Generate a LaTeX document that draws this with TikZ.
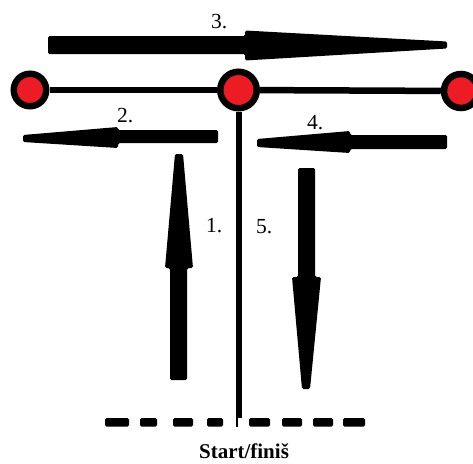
\documentclass[tikz,border=0pt]{standalone}
\usepackage{fontspec}
\setmainfont{Liberation Serif}
\definecolor{dotred}{RGB}{237,28,36}
\begin{document}
\begin{tikzpicture}[x=1pt,y=-1pt,
  dot/.style={circle,draw=black,fill=dotred,line width=6.5pt,inner sep=0pt},
  track/.style={line width=6.5pt,draw=black},
  arrowshape/.style={fill=black,rounded corners=1.5pt},
  lbl/.style={anchor=base west,inner sep=0pt,font=\fontsize{21.5}{25}\selectfont},
  startlbl/.style={anchor=base,inner sep=0pt,font=\fontsize{21}{25}\selectfont\bfseries}]
\useasboundingbox (0,0) rectangle (473,463);
\coordinate (S) at (237,418);
\coordinate (S2) at (237,427);
% track dots
\node[dot,minimum size=32.5pt] (L) at (30,90) {};
\node[dot,minimum size=36.5pt] (C) at (238.5,90) {};
\node[dot,minimum size=34pt] (R) at (461,91) {};
% track lines
\draw[track] (L) -- (C);
\draw[track] (C) -- (R);
\draw[line width=6pt] (C) -- (C |- S);
\draw[line width=2.5pt] (S) -- (S2);
% start dashes
\foreach \a/\b in {105/129,140/157,173/193,207/223,249/270,282/302,313/333,343/365}
  \fill[rounded corners=1.5pt] (\a,418) rectangle (\b,426.5);
% arrows
\fill[arrowshape] (48,36) -- (245,36) -- (245,30.5) -- (447,41.5) -- (447,48.5) -- (245,60.5) -- (245,54) -- (48,54) -- cycle;
\fill[arrowshape] (218,130) -- (118,130) -- (118,127) -- (23,135) -- (23,142) -- (118,148) -- (118,143) -- (218,143) -- cycle;
\fill[arrowshape] (447,135) -- (350,135) -- (350,131) -- (257,139) -- (257,147) -- (350,153) -- (350,149) -- (447,149) -- cycle;
\fill[arrowshape] (170,380) -- (170,268) -- (165,268) -- (175,154) -- (183,154) -- (193,268) -- (187,268) -- (187,380) -- cycle;
\fill[arrowshape] (298,168) -- (298,277) -- (292,277) -- (302,389) -- (310,389) -- (321,277) -- (315,277) -- (315,168) -- cycle;
% labels
\node[lbl] (n3) at (211,28) {3.};
\node[lbl] (n2) at (117,122) {2.};
\node[lbl] (n4) at (307,129) {4.};
\node[lbl] (n1) at (206,232) {1.};
\node[lbl] (n5) at (256,233) {5.};
\node[startlbl] (st) at (244,458) {Start/finiš};
\end{tikzpicture}
\end{document}
